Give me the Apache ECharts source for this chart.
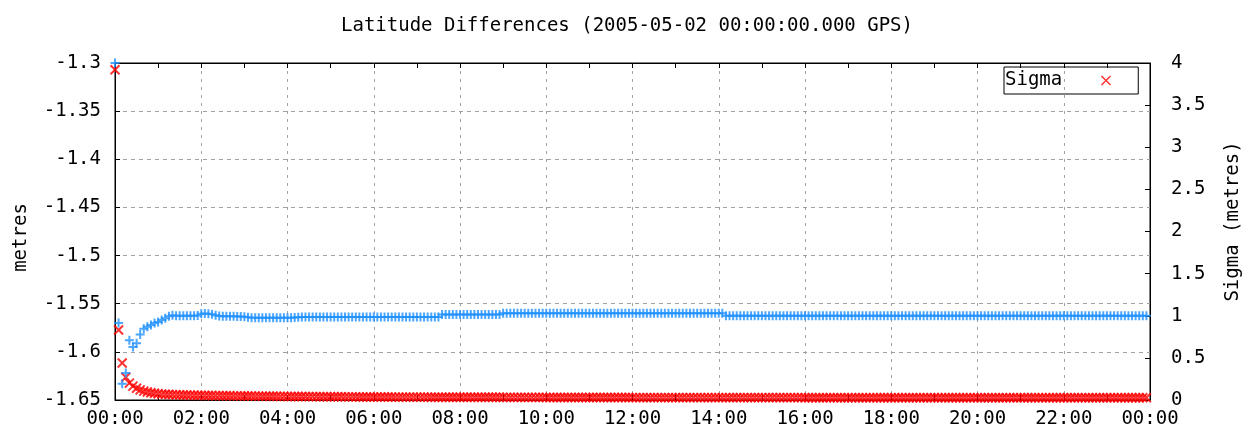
<!DOCTYPE html>
<html>
<head>
<meta charset="utf-8">
<script src="https://cdn.jsdelivr.net/npm/echarts@6/dist/echarts.min.js"></script>
<style>
html,body{margin:0;padding:0;background:#fff;}
#chart{width:1245px;height:437px;}
</style>
</head>
<body>
<div id="chart"></div>
<script>
const chartTitle = 'Latitude Differences (2005-05-02 00:00:00.000 GPS)';
const leftAxisName = 'metres';
const rightAxisName = 'Sigma (metres)';
const sigmaName = 'Sigma';
const SAMPLE_STEP_MIN = 5;

// Latitude difference (metres), one row per hour, 5-minute samples
const latDiff = [
  -1.300,-1.570,-1.633,-1.622,-1.588,-1.595,-1.591,-1.582,-1.576,-1.574,-1.572,-1.570,
  -1.569,-1.567,-1.565,-1.563,-1.562,-1.5625,-1.5625,-1.5625,-1.5625,-1.5625,-1.5625,-1.5622,
  -1.5605,-1.5602,-1.5605,-1.5610,-1.5620,-1.5628,-1.5630,-1.5630,-1.5630,-1.5630,-1.5632,-1.5632,
  -1.5635,-1.5640,-1.5645,-1.5645,-1.5645,-1.5645,-1.5645,-1.5645,-1.5645,-1.5645,-1.5645,-1.5645,
  -1.5645,-1.5645,-1.5642,-1.5640,-1.5638,-1.5637,-1.5637,-1.5637,-1.5637,-1.5637,-1.5637,-1.5637,
  -1.5637,-1.5637,-1.5637,-1.5637,-1.5637,-1.5637,-1.5637,-1.5637,-1.5637,-1.5637,-1.5637,-1.5637,
  -1.5637,-1.5637,-1.5637,-1.5637,-1.5637,-1.5637,-1.5637,-1.5637,-1.5637,-1.5637,-1.5637,-1.5637,
  -1.5637,-1.5637,-1.5637,-1.5637,-1.5637,-1.5637,-1.5637,-1.5612,-1.5612,-1.5612,-1.5612,-1.5612,
  -1.5612,-1.5612,-1.5612,-1.5612,-1.5612,-1.5612,-1.5612,-1.5612,-1.5612,-1.5612,-1.5612,-1.5612,
  -1.5600,-1.5600,-1.5600,-1.5600,-1.5600,-1.5600,-1.5600,-1.5600,-1.5600,-1.5600,-1.5600,-1.5600,
  -1.5600,-1.5600,-1.5600,-1.5600,-1.5600,-1.5600,-1.5600,-1.5600,-1.5600,-1.5600,-1.5600,-1.5600,
  -1.5600,-1.5600,-1.5600,-1.5600,-1.5600,-1.5600,-1.5600,-1.5600,-1.5600,-1.5600,-1.5600,-1.5600,
  -1.5600,-1.5600,-1.5600,-1.5600,-1.5600,-1.5600,-1.5600,-1.5600,-1.5600,-1.5600,-1.5600,-1.5600,
  -1.5600,-1.5600,-1.5600,-1.5600,-1.5600,-1.5600,-1.5600,-1.5600,-1.5600,-1.5600,-1.5600,-1.5600,
  -1.5600,-1.5600,-1.5625,-1.5625,-1.5625,-1.5625,-1.5625,-1.5625,-1.5625,-1.5625,-1.5625,-1.5625,
  -1.5625,-1.5625,-1.5625,-1.5625,-1.5625,-1.5625,-1.5625,-1.5625,-1.5625,-1.5625,-1.5625,-1.5625,
  -1.5625,-1.5625,-1.5625,-1.5625,-1.5625,-1.5625,-1.5625,-1.5625,-1.5625,-1.5625,-1.5625,-1.5625,
  -1.5625,-1.5625,-1.5625,-1.5625,-1.5625,-1.5625,-1.5625,-1.5625,-1.5625,-1.5625,-1.5625,-1.5625,
  -1.5625,-1.5625,-1.5625,-1.5625,-1.5625,-1.5625,-1.5625,-1.5625,-1.5625,-1.5625,-1.5625,-1.5625,
  -1.5625,-1.5625,-1.5625,-1.5625,-1.5625,-1.5625,-1.5625,-1.5625,-1.5625,-1.5625,-1.5625,-1.5625,
  -1.5625,-1.5625,-1.5625,-1.5625,-1.5625,-1.5625,-1.5625,-1.5625,-1.5625,-1.5625,-1.5625,-1.5625,
  -1.5625,-1.5625,-1.5625,-1.5625,-1.5625,-1.5625,-1.5625,-1.5625,-1.5625,-1.5625,-1.5625,-1.5625,
  -1.5625,-1.5625,-1.5625,-1.5625,-1.5625,-1.5625,-1.5625,-1.5625,-1.5625,-1.5625,-1.5625,-1.5625,
  -1.5625,-1.5625,-1.5625,-1.5625,-1.5625,-1.5625,-1.5625,-1.5625,-1.5625,-1.5625,-1.5625,-1.5625
];

// Sigma (metres), one row per hour, 5-minute samples
const sigma = [
  3.92,0.83,0.44,0.27,0.20,0.165,0.14,0.12,0.105,0.095,0.087,0.080,
  0.074,0.070,0.068,0.066,0.064,0.062,0.061,0.060,0.059,0.058,0.057,0.056,
  0.055,0.054,0.054,0.053,0.052,0.052,0.051,0.050,0.050,0.049,0.049,0.048,
  0.048,0.047,0.047,0.046,0.046,0.045,0.045,0.045,0.044,0.044,0.043,0.043,
  0.042,0.042,0.042,0.041,0.041,0.041,0.040,0.040,0.040,0.039,0.039,0.039,
  0.038,0.038,0.038,0.038,0.037,0.037,0.037,0.037,0.036,0.036,0.036,0.036,
  0.035,0.035,0.035,0.035,0.035,0.035,0.034,0.034,0.034,0.034,0.034,0.034,
  0.034,0.034,0.034,0.034,0.033,0.033,0.033,0.033,0.033,0.033,0.033,0.033,
  0.032,0.032,0.032,0.032,0.032,0.032,0.032,0.032,0.032,0.032,0.032,0.032,
  0.031,0.031,0.031,0.031,0.031,0.031,0.031,0.031,0.031,0.031,0.031,0.031,
  0.030,0.030,0.030,0.030,0.030,0.030,0.030,0.030,0.030,0.030,0.030,0.030,
  0.029,0.029,0.029,0.029,0.029,0.029,0.029,0.029,0.029,0.029,0.029,0.029,
  0.028,0.028,0.028,0.028,0.028,0.028,0.028,0.028,0.028,0.028,0.028,0.028,
  0.028,0.028,0.028,0.028,0.028,0.028,0.028,0.028,0.028,0.028,0.028,0.028,
  0.028,0.028,0.028,0.028,0.028,0.028,0.028,0.028,0.028,0.028,0.028,0.028,
  0.028,0.028,0.028,0.028,0.028,0.028,0.028,0.028,0.028,0.028,0.028,0.028,
  0.027,0.027,0.027,0.027,0.027,0.027,0.027,0.027,0.027,0.027,0.027,0.027,
  0.027,0.027,0.027,0.027,0.027,0.027,0.027,0.027,0.027,0.027,0.027,0.027,
  0.027,0.027,0.027,0.027,0.027,0.027,0.027,0.027,0.027,0.027,0.027,0.027,
  0.027,0.027,0.027,0.027,0.027,0.027,0.027,0.027,0.027,0.027,0.027,0.027,
  0.026,0.026,0.026,0.026,0.026,0.026,0.026,0.026,0.026,0.026,0.026,0.026,
  0.026,0.026,0.026,0.026,0.026,0.026,0.026,0.026,0.026,0.026,0.026,0.026,
  0.026,0.026,0.026,0.026,0.026,0.026,0.026,0.026,0.026,0.026,0.026,0.026,
  0.026,0.026,0.026,0.026,0.026,0.026,0.026,0.026,0.026,0.026,0.026,0.026
];

const hours = latDiff.map((_, i) => i * SAMPLE_STEP_MIN / 60);

const FONT = 'DejaVu Sans Mono';
const FS = 19;
const GRID_COLOR = '#a0a0a0';
const PLUS = 'path://M5,0L5,10M0,5L10,5';
const CROSS = 'path://M0,0L10,10M10,0L0,10';

const fmtHour = v => { const h = Math.round(v) % 24; return (h < 10 ? '0' : '') + h + ':00'; };

const chart = echarts.init(document.getElementById('chart'), null, {renderer: 'canvas'});
chart.setOption({
  animation: false,
  backgroundColor: '#fff',
  textStyle: {fontFamily: FONT, fontSize: FS, color: '#000'},
  title: {
    text: chartTitle, left: 341, top: 17, padding: 0,
    textStyle: {fontFamily: FONT, fontSize: FS, fontWeight: 'normal', color: '#000'}
  },
  legend: {
    data: [{name: sigmaName, icon: CROSS}],
    left: 1004, top: 67, orient: 'vertical', align: 'right',
    padding: [4, 27, 4, 1],
    borderColor: '#000', borderWidth: 1, borderRadius: 0,
    itemWidth: 9, itemHeight: 9,
    itemStyle: {color: 'rgba(0,0,0,0)', borderColor: '#ff0000', borderWidth: 1.5},
    formatter: n => n + '\u00a0\u00a0\u00a0',
    textStyle: {fontFamily: FONT, fontSize: FS, color: '#000'}
  },
  grid: {left: 115, right: 95, top: 63, bottom: 37, outerBoundsMode: 'none', containLabel: false,
    show: true, borderColor: '#000', borderWidth: 1, backgroundColor: '#fff'},
  xAxis: [{
    type: 'value', min: 0, max: 24, interval: 2, position: 'bottom',
    axisLine: {show: true, lineStyle: {color: '#000', width: 1}},
    axisTick: {show: true, inside: true, length: 5, lineStyle: {color: '#000'}},
    minorTick: {show: true, splitNumber: 2, length: 5, lineStyle: {color: '#000'}},
    axisLabel: {margin: 10, color: '#000', fontFamily: FONT, fontSize: FS, formatter: fmtHour},
    splitLine: {show: true, lineStyle: {color: GRID_COLOR, type: [3, 5], width: 1}}
  }, {
    type: 'value', min: 0, max: 24, interval: 2, position: 'top',
    axisLine: {show: true, lineStyle: {color: '#000', width: 1}},
    axisTick: {show: true, inside: true, length: 5, lineStyle: {color: '#000'}},
    minorTick: {show: true, splitNumber: 2, length: 5, lineStyle: {color: '#000'}},
    axisLabel: {show: false},
    splitLine: {show: false}
  }],
  yAxis: [{
    type: 'value', min: -1.65, max: -1.3, interval: 0.05, position: 'left',
    name: leftAxisName, nameLocation: 'middle', nameRotate: 90, nameGap: 84,
    nameTextStyle: {fontFamily: FONT, fontSize: FS, color: '#000', padding: [0, 12, 0, 0]},
    axisLine: {show: true, onZero: false, lineStyle: {color: '#000', width: 1}},
    axisTick: {show: true, inside: true, length: 5, lineStyle: {color: '#000'}},
    axisLabel: {margin: 14, color: '#000', fontFamily: FONT, fontSize: FS,
      formatter: v => String(parseFloat(v.toFixed(2)))},
    splitLine: {show: true, lineStyle: {color: GRID_COLOR, type: [4, 4], width: 1}}
  }, {
    type: 'value', min: 0, max: 4, interval: 0.5, position: 'right',
    name: rightAxisName, nameLocation: 'middle', nameRotate: 90, nameGap: 74,
    nameTextStyle: {fontFamily: FONT, fontSize: FS, color: '#000', padding: [0, 0, 0, 20]},
    axisLine: {show: true, onZero: false, lineStyle: {color: '#000', width: 1}},
    axisTick: {show: true, inside: true, length: 5, lineStyle: {color: '#000'}},
    axisLabel: {margin: 21, color: '#000', fontFamily: FONT, fontSize: FS,
      formatter: v => String(parseFloat(v.toFixed(2)))},
    splitLine: {show: false}
  }],
  series: [{
    name: sigmaName, type: 'scatter', xAxisIndex: 0, yAxisIndex: 1,
    data: sigma.map((v, i) => [hours[i], v]),
    symbol: CROSS, symbolSize: 9, clip: false,
    itemStyle: {color: 'rgba(0,0,0,0)', borderColor: '#ff0000', borderWidth: 2},
    emphasis: {disabled: true}, z: 3
  }, {
    name: 'Latitude', type: 'scatter', xAxisIndex: 0, yAxisIndex: 0,
    data: latDiff.map((v, i) => [hours[i], v]),
    symbol: PLUS, symbolSize: 9, clip: false,
    itemStyle: {color: 'rgba(0,0,0,0)', borderColor: '#1e90ff', borderWidth: 2},
    emphasis: {disabled: true}, z: 4
  }]
});
</script>
</body>
</html>
